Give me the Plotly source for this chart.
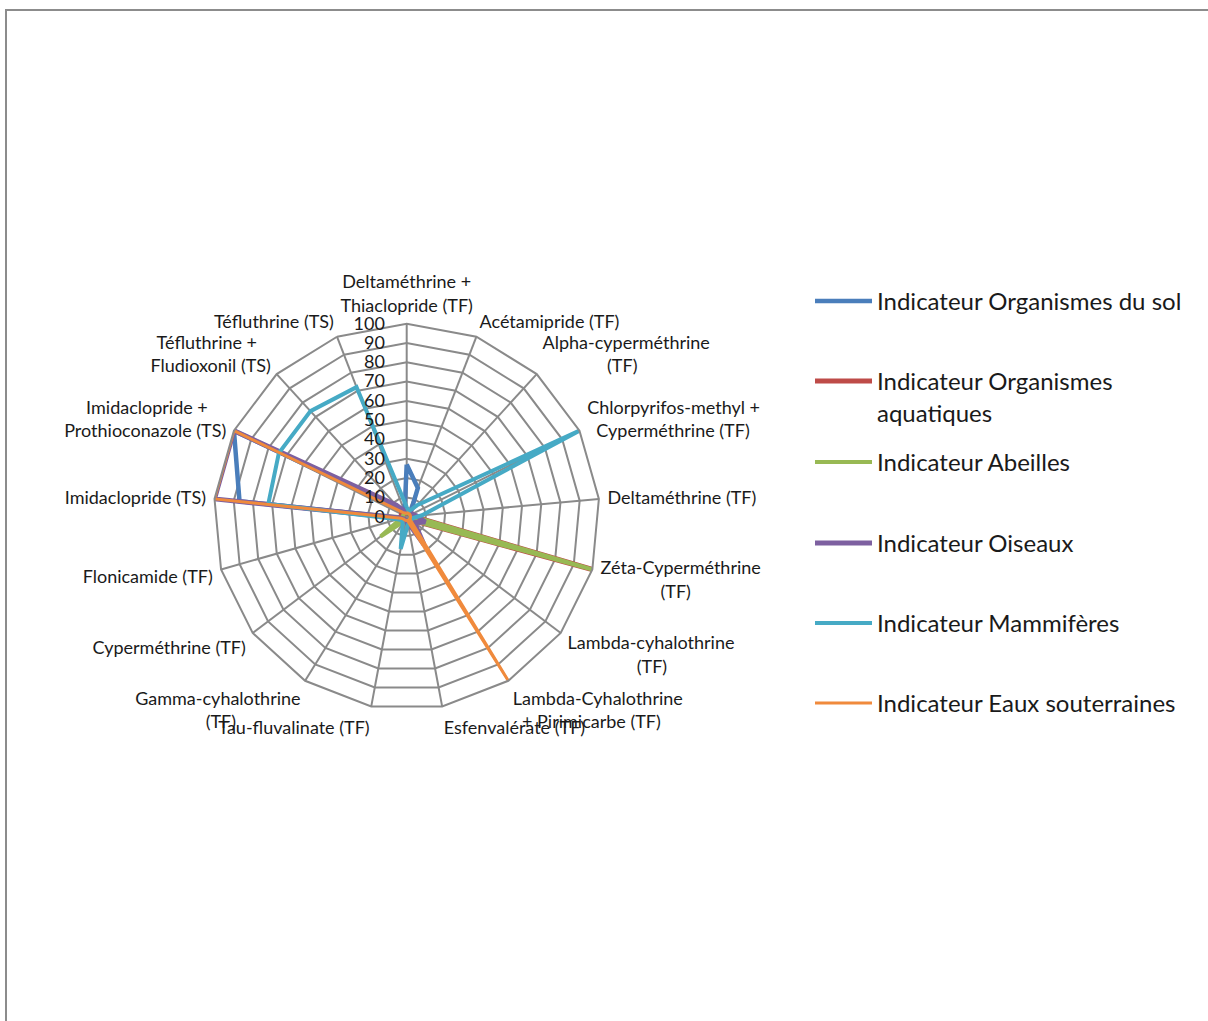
import plotly.graph_objects as go

W, H = 1208, 1021

CATEGORIES = [
    "Deltaméthrine +<br>Thiaclopride (TF)",
    "Acétamipride (TF)",
    "Alpha-cyperméthrine<br>(TF)",
    "Chlorpyrifos-methyl +<br>Cyperméthrine (TF)",
    "Deltaméthrine (TF)",
    "Zéta-Cyperméthrine<br>(TF)",
    "Lambda-cyhalothrine<br>(TF)",
    "Lambda-Cyhalothrine<br>+ Pirimicarbe (TF)",
    "Esfenvalérate (TF)",
    "Tau-fluvalinate (TF)",
    "Gamma-cyhalothrine<br>(TF)",
    "Cyperméthrine (TF)",
    "Flonicamide (TF)",
    "Imidaclopride (TS)",
    "Imidaclopride +<br>Prothioconazole (TS)",
    "Téfluthrine +<br>Fludioxonil (TS)",
    "Téfluthrine (TS)",
]

SERIES_NAMES = [
    "Indicateur Organismes du sol",
    "Indicateur Organismes<br>aquatiques",
    "Indicateur Abeilles",
    "Indicateur Oiseaux",
    "Indicateur Mammifères",
    "Indicateur Eaux souterraines",
]

SOL = [27, 16, 3, 3, 3, 3, 3, 3, 3, 3, 3, 3, 3, 87, 100, 5, 3]
AQUATIQUES = [2, 2, 2, 3, 3, 100, 3, 3, 2, 2, 2, 2, 2, 3, 3, 2, 2]
ABEILLES = [2, 2, 2, 2, 3, 100, 3, 2, 2, 2, 3, 17, 3, 2, 2, 2, 2]
OISEAUX = [3, 3, 3, 3, 5, 10, 5, 17, 3, 2, 2, 2, 3, 100, 100, 8, 3]
MAMMIFERES = [5, 3, 8, 100, 8, 3, 3, 3, 4, 17, 4, 3, 5, 72, 74, 74, 72]
EAUX = [2, 2, 2, 2, 2, 2, 2, 100, 2, 2, 2, 2, 3, 100, 100, 3, 2]

RADIAL_TICKS = [0, 10, 20, 30, 40, 50, 60, 70, 80, 90, 100]

VALUES = [SOL, AQUATIQUES, ABEILLES, OISEAUX, MAMMIFERES, EAUX]
COLORS = ["#4A7EBB", "#BE4B48", "#98B954", "#7D60A0", "#46AAC5", "#F08A3C"]
WIDTHS = [4.5, 5, 4, 5, 4, 3]
LEGEND_Y_PX = [301, 381, 462, 543, 623, 703]

FONT = "Lato"
TEXT = "#1a1a1a"
CAT_SIZE = 18
NBSP = "\u00a0"


def est_width(s):
    w = 0.0
    for ch in s:
        if ch in "iljtfr()|.,:;! -'":
            w += 0.30
        elif ch.isupper():
            w += 0.64
        elif ch in "mw":
            w += 0.82
        elif ch == "+":
            w += 0.58
        else:
            w += 0.52
    return w


def centered(label, side):
    # pad shorter line with non-breaking spaces so both lines look centred
    if "<br>" not in label or side == "middle":
        return label
    a, b = label.split("<br>")
    wa, wb = est_width(a), est_width(b)
    n = int(round(abs(wa - wb) / 2 / 0.25))
    pad = NBSP * n
    if side == "start":
        if wa < wb:
            a = pad + a
        else:
            b = pad + b
    else:
        if wa < wb:
            a = a + pad
        else:
            b = b + pad
    return a + "<br>" + b


TICKTEXT = []
for k, lab in enumerate(CATEGORIES):
    ang = k * 360 / len(CATEGORIES)
    if 10 < ang < 170:
        side = "start"
    elif 190 < ang < 350:
        side = "end"
    else:
        side = "middle"
    TICKTEXT.append(centered(lab, side))

fig = go.Figure()
legend_ids = ["legend", "legend2", "legend3", "legend4", "legend5", "legend6"]
for i, (name, vals) in enumerate(zip(SERIES_NAMES, VALUES)):
    fig.add_trace(go.Scatterpolar(
        r=vals + [vals[0]],
        theta=CATEGORIES + [CATEGORIES[0]],
        mode="lines",
        name=name,
        line=dict(color=COLORS[i], width=WIDTHS[i]),
        cliponaxis=False,
        legend=legend_ids[i],
    ))

cx, cy, R = 406.7, 516.7, 193
layout_legends = {}
for i, lid in enumerate(legend_ids):
    layout_legends[lid] = dict(
        x=810 / W, y=1 - (LEGEND_Y_PX[i] - 22) / H,
        xanchor="left", yanchor="top", valign="top",
        font=dict(family=FONT, size=24, color=TEXT),
        itemwidth=57, bgcolor="rgba(0,0,0,0)", borderwidth=0,
    )

fig.update_layout(
    width=W, height=H,
    margin=dict(l=0, r=0, t=0, b=0),
    paper_bgcolor="white",
    font=dict(family=FONT, color=TEXT),
    showlegend=True,
    polar=dict(
        domain=dict(x=[(cx - R) / W, (cx + R) / W],
                    y=[(H - cy - R) / H, (H - cy + R) / H]),
        bgcolor="rgba(0,0,0,0)",
        gridshape="linear",
        angularaxis=dict(
            direction="clockwise", rotation=90,
            categoryorder="array", categoryarray=CATEGORIES,
            tickmode="array", tickvals=CATEGORIES, ticktext=TICKTEXT,
            gridcolor="#8a8a8a", gridwidth=2,
            linecolor="#8a8a8a", linewidth=2, showline=True,
            ticks="outside", ticklen=4, tickcolor="rgba(0,0,0,0)",
            tickfont=dict(family=FONT, size=CAT_SIZE, color=TEXT),
        ),
        radialaxis=dict(
            range=[0, 100], tickmode="array", tickvals=RADIAL_TICKS,
            angle=90, tickangle=90, side="counterclockwise",
            gridcolor="#8a8a8a", gridwidth=2, showline=False,
            ticks="outside", ticklen=15, tickcolor="rgba(0,0,0,0)",
            tickfont=dict(family=FONT, size=18, color=TEXT),
        ),
    ),
    shapes=[dict(type="rect", xref="paper", yref="paper",
                 x0=6 / W, x1=1.05, y0=-0.05, y1=1 - 10 / H,
                 line=dict(color="#8c8c8c", width=2))],
    **layout_legends,
)

fig.write_html("out.html")
